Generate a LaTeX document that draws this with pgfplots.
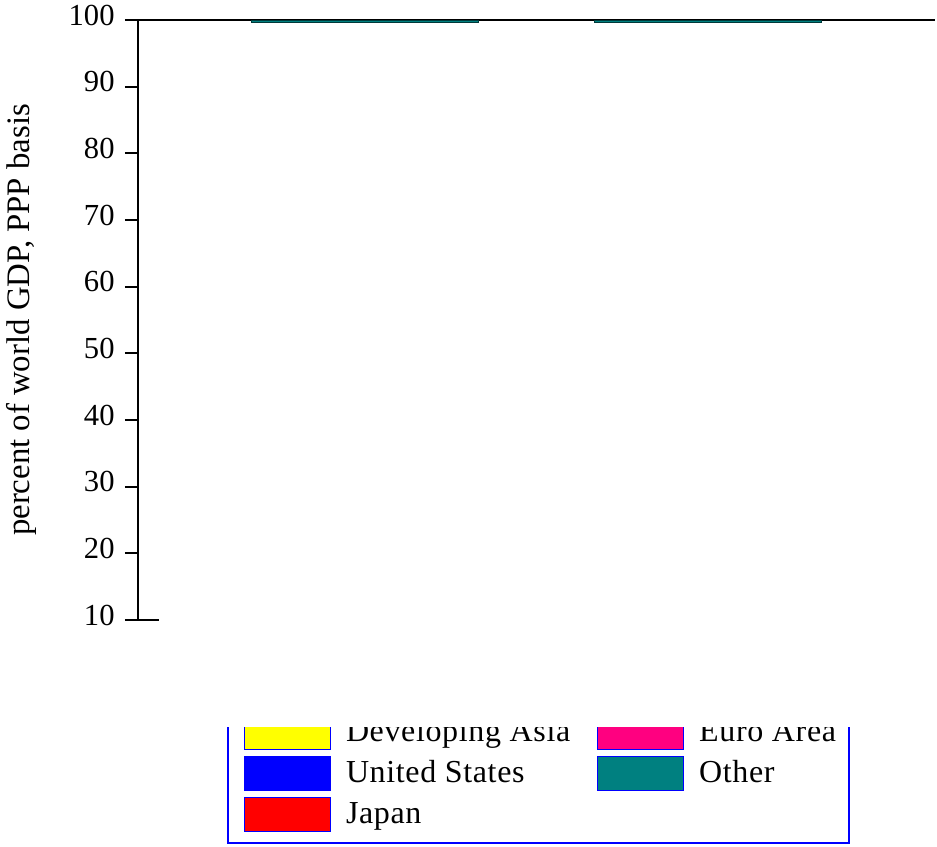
\documentclass[border=0pt]{standalone}
\usepackage{fontspec}
\setmainfont{Liberation Serif}
\newfontfamily\legfont{Liberation Serif}[LetterSpace=2]
\usepackage{pgfplots}
\pgfplotsset{compat=1.18}
\definecolor{cyellow}{RGB}{255,255,0}
\definecolor{cblue}{RGB}{0,0,255}
\definecolor{cred}{RGB}{255,0,0}
\definecolor{cmag}{RGB}{255,0,128}
\definecolor{cteal}{RGB}{0,128,128}
\begin{document}
\begin{tikzpicture}
\begin{axis}[
  scale only axis, width=398.5pt, height=300pt,
  xmin=0.336, xmax=2.664, ymin=10, ymax=100,
  axis x line=none, axis y line*=left,
  y axis line style={line width=1pt, black},
  ytick={10,20,...,100},
  tick align=outside, major tick length=6.5pt,
  tick style={black, line width=1pt},
  /pgf/number format/assume math mode=true,
  yticklabel style={font=\fontsize{15.3}{18}\selectfont, inner xsep=5pt, inner ysep=0pt, yshift=2.5pt},
  ylabel={percent of world GDP, PPP basis},
  every axis y label/.style={at={(rel axis cs:0,0.5)}, xshift=-50.5pt, rotate=90, anchor=south, inner sep=0pt, font=\fontsize{16.4}{19}\selectfont},
  ybar stacked, bar width=0.663,
  clip=false,
  legend columns=2,
  legend style={at={(0.1117,-0.3733)}, anchor=south west, draw=cblue, line width=0.8pt, fill=white,
    inner xsep=8pt, inner ysep=5.5pt, row sep=3pt, font=\legfont\fontsize{16}{19}\selectfont,
    cells={anchor=west}, nodes={inner sep=0pt},
    /tikz/every odd column/.style={column sep=7.5pt},
    /tikz/every even column/.style={column sep=7.5pt}},
]
\addplot[draw=none, fill=none, forget plot] coordinates {(1,99.7) (2,99.7)};
\addplot[fill=cteal, draw=cteal!45!black, line width=0.4pt, forget plot] coordinates {(1,0.3) (2,0.3)};

\addlegendimage{legend image code/.code={\draw[fill=cyellow, draw=cblue, line width=0.6pt] (0pt,-8.5pt) rectangle (43pt,8.5pt);}}
\addlegendentry{\makebox[118pt][l]{Developing Asia}}
\addlegendimage{legend image code/.code={\draw[fill=cmag, draw=cblue, line width=0.6pt] (0pt,-8.5pt) rectangle (43pt,8.5pt);}}
\addlegendentry{\makebox[67pt][l]{Euro Area}}
\addlegendimage{legend image code/.code={\draw[fill=cblue, draw=cblue, line width=0.6pt] (0pt,-8.5pt) rectangle (43pt,8.5pt);}}
\addlegendentry{\makebox[118pt][l]{United States}}
\addlegendimage{legend image code/.code={\draw[fill=cteal, draw=cblue, line width=0.6pt] (0pt,-8.5pt) rectangle (43pt,8.5pt);}}
\addlegendentry{\makebox[67pt][l]{Other}}
\addlegendimage{legend image code/.code={\draw[fill=cred, draw=cblue, line width=0.6pt] (0pt,-8.5pt) rectangle (43pt,8.5pt);}}
\addlegendentry{\makebox[118pt][l]{Japan}}

\draw[line width=1pt, black] (rel axis cs:0,1) -- (rel axis cs:1,1);
\draw[line width=1pt, black] (rel axis cs:0,0) -- ([xshift=10.5pt]rel axis cs:0,0);
\coordinate (O) at (rel axis cs:0,0);
\end{axis}
\fill[white] ([shift={(40pt,-38pt)}]O) rectangle ([shift={(360pt,-53.5pt)}]O);
\pgfresetboundingbox
\useasboundingbox ([shift={(-69pt,-113pt)}]O) rectangle ([shift={(399.5pt,310pt)}]O);
\end{tikzpicture}
\end{document}
